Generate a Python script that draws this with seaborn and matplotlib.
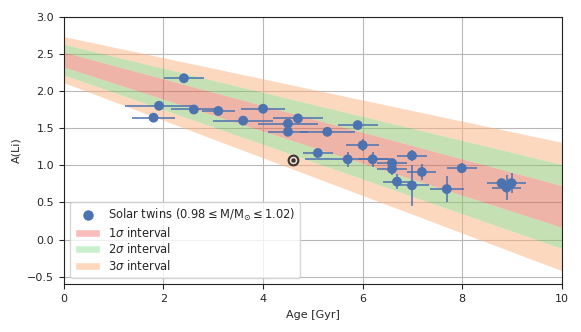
import numpy as np
import pandas as pd
import matplotlib
matplotlib.use('Agg')
import matplotlib.pyplot as plt
from matplotlib.patches import Patch
import seaborn as sns

# solar twins: age [Gyr], A(Li) and their errors
age = [1.80, 1.91, 2.41, 2.61, 3.10, 3.60, 4.00, 4.50, 4.50, 4.70,
       5.10, 5.29, 5.70, 5.90, 6.00, 6.20, 6.59, 6.59, 6.69, 6.99,
       6.99, 7.19, 7.69, 7.99, 8.79, 8.89, 8.99]
ali = [1.64, 1.80, 2.17, 1.75, 1.73, 1.60, 1.76, 1.56, 1.45, 1.63,
       1.165, 1.45, 1.08, 1.54, 1.27, 1.08, 1.03, 0.95, 0.78, 1.13,
       0.73, 0.91, 0.68, 0.96, 0.76, 0.70, 0.76]
age_err = [0.44, 0.69, 0.40, 0.45, 0.33, 0.60, 0.45, 0.60, 0.40, 0.50,
           0.30, 0.55, 0.85, 0.40, 0.33, 0.30, 0.30, 0.30, 0.29, 0.30,
           0.35, 0.29, 0.34, 0.30, 0.30, 0.30, 0.30]
ali_err = [0.04, 0.04, 0.04, 0.04, 0.04, 0.04, 0.04, 0.04, 0.04, 0.04,
           0.04, 0.04, 0.10, 0.04, 0.08, 0.10, 0.04, 0.08, 0.10, 0.07,
           0.28, 0.105, 0.17, 0.07, 0.05, 0.17, 0.13]

# the Sun
sun_age = 4.6
sun_ali = 1.07

# fitted relation: band edges read at age 0 and 10 Gyr
band_age = [0, 10]
band_center = [2.42, 0.446]
band_1sig = [0.10, 0.28]
band_2sig = [0.206, 0.565]
band_3sig = [0.31, 0.863]

df = pd.DataFrame({'age': age, 'ali': ali})

sns.set_style('ticks')
plt.rcParams['font.family'] = ['DejaVu Sans']
plt.rcParams['font.size'] = 8

fig = plt.figure(figsize=(5.81, 3.32), dpi=100)
ax = fig.add_axes([0.110, 0.1437, 0.857, 0.8066])
ax.grid(True, color='#b8b8b8', linewidth=0.8)
ax.set_axisbelow(True)

bx = np.array(band_age)
c = np.array(band_center)
s1, s2, s3 = np.array(band_1sig), np.array(band_2sig), np.array(band_3sig)

red = '#dc6a50'
green = '#8dc369'
orange = '#fbb381'
for lo, hi, col in [(s2, s3, orange), (s1, s2, green)]:
    ax.fill_between(bx, c + lo, c + hi, color=col, alpha=0.5, lw=0)
    ax.fill_between(bx, c - hi, c - lo, color=col, alpha=0.5, lw=0)
ax.fill_between(bx, c - s1, c + s1, color=red, alpha=0.5, lw=0)

blue = '#4c72b0'
ax.errorbar(age, ali, xerr=age_err, yerr=ali_err, fmt='none',
            ecolor=blue, elinewidth=1.1, zorder=3)
sns.scatterplot(data=df, x='age', y='ali', ax=ax, color=blue, s=50,
                edgecolor='none', zorder=4, legend=False)

ax.plot(sun_age, sun_ali, marker='o', ms=7, mfc='#f3e4d6', mec='#3a3533',
        mew=1.5, zorder=5)
ax.plot(sun_age, sun_ali, marker='o', ms=2.2, color='#3a3533', zorder=6)

ax.set_xlim(0, 10)
ax.set_ylim(-0.6, 3.0)
ax.set_xticks([0, 2, 4, 6, 8, 10])
ax.set_yticks([-0.5, 0.0, 0.5, 1.0, 1.5, 2.0, 2.5, 3.0])
ax.set_xlabel('Age [Gyr]')
ax.set_ylabel('A(Li)')
for sp in ax.spines.values():
    sp.set_visible(True)
    sp.set_color('#222222')
    sp.set_linewidth(0.8)

handles = [
    plt.Line2D([], [], marker='o', ls='none', color=blue, ms=6.5),
    Patch(facecolor='#fbbcbc'),
    Patch(facecolor='#c9efcd'),
    Patch(facecolor='#fed8be'),
]
labels = [
    r'Solar twins ($0.98 \leq \mathrm{M/M_{\odot}} \leq 1.02$)',
    r'1$\sigma$ interval',
    r'2$\sigma$ interval',
    r'3$\sigma$ interval',
]
ax.legend(handles, labels, loc='lower left', fontsize=8.3, frameon=True,
          borderaxespad=0.55, handlelength=2.2, handletextpad=0.7,
          labelspacing=0.25, borderpad=0.4)

fig.savefig('out.png', dpi=100)
